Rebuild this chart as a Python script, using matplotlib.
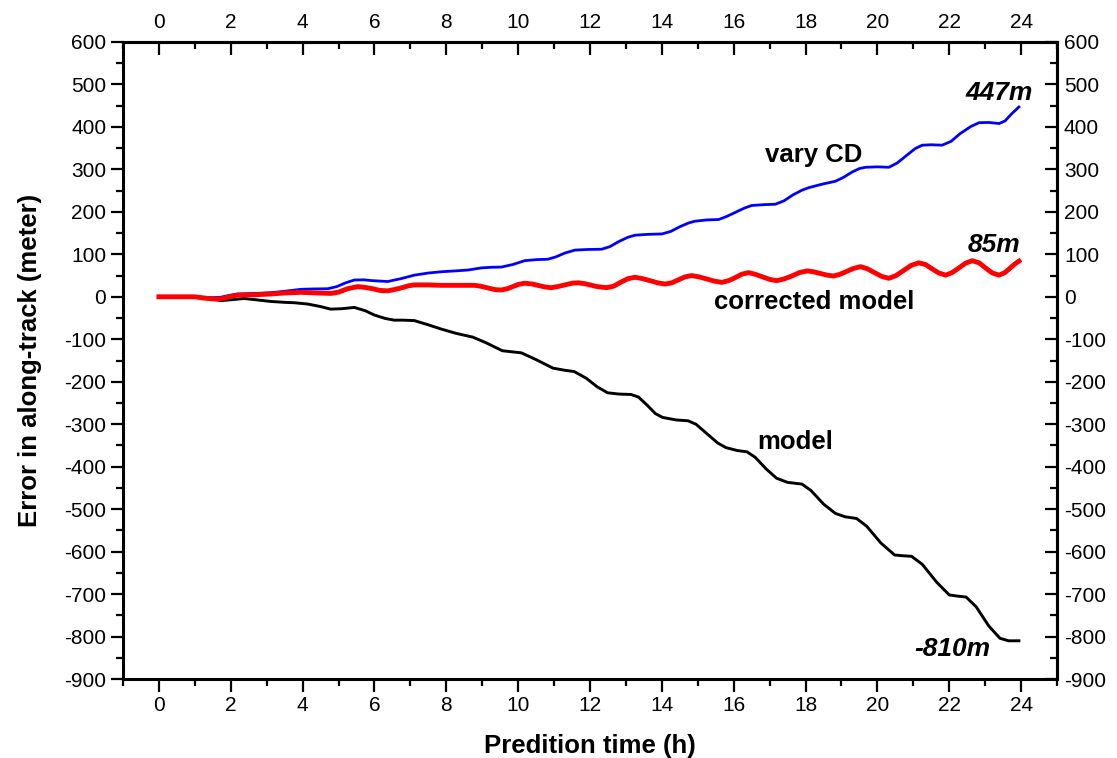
import matplotlib
matplotlib.use("Agg")
import matplotlib.pyplot as plt
from matplotlib.ticker import MultipleLocator

plt.rcParams['font.family'] = ['Liberation Sans', 'DejaVu Sans']
plt.rcParams['axes.unicode_minus'] = False

# --- data (hours, meters) ---
t_model = [0, 0.5, 1.0, 1.4, 1.72, 2.0, 2.37, 2.7, 3.12, 3.5, 3.77, 4.14, 4.5, 4.78, 5.1,
           5.44, 5.75, 6.0, 6.3, 6.55, 6.8, 7.11, 7.5, 7.86, 8.27, 8.74, 9.1, 9.56, 10.09,
           10.5, 10.97, 11.3, 11.56, 11.9, 12.2, 12.49, 12.8, 13.14, 13.35, 13.6, 13.82,
           14.02, 14.4, 14.73, 14.95, 15.25, 15.55, 15.78, 16.1, 16.37, 16.6, 16.9, 17.19,
           17.5, 17.9, 18.15, 18.5, 18.83, 19.1, 19.42, 19.7, 20.1, 20.48, 20.75, 20.95,
           21.25, 21.65, 22.0, 22.25, 22.47, 22.75, 23.1, 23.41, 23.65, 23.94]
err_model = [0, 0, -1, -4, -9, -7, -4, -7, -11, -13, -14, -17, -23, -29, -28,
             -25, -33, -43, -51, -55, -55, -56, -66, -76, -86, -95, -108, -127, -132,
             -148, -168, -173, -176, -192, -212, -226, -229, -230, -236, -256, -275,
             -284, -290, -292, -300, -322, -344, -355, -362, -365, -378, -405, -427,
             -437, -441, -456, -488, -510, -518, -522, -540, -580, -608, -610, -611,
             -630, -672, -702, -705, -707, -730, -775, -804, -810, -810]

t_vary = [0, 1.0, 1.5, 1.72, 2.0, 2.19, 2.7, 3.12, 3.5, 3.95, 4.3, 4.7, 4.95, 5.2, 5.44,
          5.7, 5.95, 6.37, 6.75, 7.11, 7.5, 7.86, 8.25, 8.6, 8.97, 9.25, 9.53, 9.85, 10.18,
          10.5, 10.83, 11.05, 11.3, 11.58, 11.95, 12.32, 12.55, 12.8, 13.05, 13.25, 13.6,
          14.0, 14.25, 14.5, 14.75, 14.92, 15.25, 15.58, 15.8, 16.05, 16.3, 16.5, 16.85,
          17.16, 17.4, 17.65, 17.9, 18.09, 18.45, 18.83, 19.05, 19.3, 19.5, 19.67, 20.0,
          20.32, 20.55, 20.8, 21.05, 21.25, 21.5, 21.8, 22.05, 22.3, 22.6, 22.83, 23.1,
          23.39, 23.55, 23.75, 23.94]
err_vary = [0, 0, -2, -1, 4, 6.6, 8, 9.7, 13, 17.6, 18.5, 19, 24, 33, 39.5,
            40, 38, 36, 43, 51, 56, 59, 61, 63, 68, 69.5, 70, 76, 85,
            87.5, 88.5, 94, 103, 110, 111.5, 112, 118, 130, 140, 145, 147,
            148, 154, 165, 174, 178, 181, 182, 189, 199, 209, 215, 217,
            218, 226, 240, 251, 257, 265, 272, 281, 294, 302, 305, 306,
            305, 315, 332, 349, 357, 358, 357, 366, 384, 401, 410, 410.5,
            408, 414, 432, 447]

t_corr = [0, 1.0, 1.25, 1.5, 1.72, 1.95, 2.19, 2.7, 3.12, 3.5, 3.95, 4.4, 4.79, 5.0, 5.25,
          5.53, 5.75, 5.95, 6.15, 6.37, 6.55, 6.75, 6.95, 7.11, 7.5, 7.86, 8.3, 8.79, 8.95,
          9.15, 9.35, 9.53, 9.7, 9.85, 10.0, 10.18, 10.4, 10.55, 10.75, 10.92, 11.1, 11.3,
          11.5, 11.67, 11.85, 12.0, 12.2, 12.46, 12.66, 12.85, 13.05, 13.25, 13.45, 13.67,
          13.88, 14.09, 14.28, 14.46, 14.65, 14.83, 15.03, 15.25, 15.46, 15.67, 15.86,
          16.04, 16.22, 16.41, 16.6, 16.8, 17.0, 17.2, 17.4, 17.62, 17.83, 18.04, 18.22,
          18.41, 18.6, 18.78, 18.96, 19.15, 19.34, 19.53, 19.72, 19.92, 20.12, 20.32,
          20.52, 20.73, 20.94, 21.15, 21.34, 21.52, 21.71, 21.9, 22.08, 22.27, 22.45,
          22.64, 22.83, 23.01, 23.2, 23.39, 23.55, 23.7, 23.82, 23.94]
err_corr = [0, 0, -3, -5, -5, 0, 4, 5, 6.6, 9, 10.5, 9, 8, 11, 19,
            24, 22, 19, 15, 14, 17, 21, 26, 28, 28, 27, 27, 27, 25,
            21, 17, 16, 19, 24, 29, 32, 30, 27, 23, 21.5, 24, 28,
            32, 33, 31, 28, 24, 21.5, 25, 34, 42.5, 46, 43, 38,
            33, 30, 33, 40, 47, 50, 47, 42, 37, 34, 38,
            45, 53, 57, 53, 47, 41, 38, 42, 49, 57, 61, 59,
            55, 51, 49, 53, 60, 67, 71, 66, 57, 48, 43.5,
            50, 62, 74, 80, 76, 66, 56, 51, 57, 68, 79,
            85, 80, 68, 56, 51, 57, 68, 77, 84]

xticks = list(range(0, 25, 2))
yticks = list(range(-900, 601, 100))

fig = plt.figure(figsize=(11.17, 7.58), dpi=100)
ax = fig.add_axes([0.1101, 0.1042, 0.8362, 0.8404])

ax.plot(t_model, err_model, color='black', lw=2.1, solid_joinstyle='round')
ax.plot(t_vary, err_vary, color='#0000ff', lw=2.0, solid_joinstyle='round')
ax.plot(t_corr, err_corr, color='#ff0000', lw=3.5, solid_joinstyle='round')

ax.set_xlim(-1, 25)
ax.set_ylim(-900, 600)
ax.set_xticks(xticks)
ax.set_yticks(yticks)
ax.xaxis.set_minor_locator(MultipleLocator(1))
ax.yaxis.set_minor_locator(MultipleLocator(50))

for s in ax.spines.values():
    s.set_linewidth(2.2)

ax.tick_params(axis='both', which='major', direction='out', length=9, width=1.6,
               labelsize=15, pad=3)
ax.tick_params(axis='both', which='minor', direction='out', length=5, width=1.6)

secx = ax.secondary_xaxis('top')
secx.set_xticks(xticks)
secx.xaxis.set_minor_locator(MultipleLocator(1))
secx.tick_params(which='major', direction='in', length=9, width=1.6, labelsize=15, pad=7)
secx.tick_params(which='minor', direction='in', length=5, width=1.6)
secx.spines['top'].set_linewidth(2.2)

secy = ax.secondary_yaxis('right')
secy.set_yticks(yticks)
secy.yaxis.set_minor_locator(MultipleLocator(50))
secy.tick_params(which='major', direction='in', length=9, width=1.6, labelsize=15, pad=5)
secy.tick_params(which='minor', direction='in', length=5, width=1.6)
secy.spines['right'].set_linewidth(2.2)

ax.set_xlabel('Predition time (h)', fontsize=18.5, fontweight='bold', labelpad=14)
ax.set_ylabel('Error in along-track (meter)', fontsize=18.5, fontweight='bold', labelpad=16)

ax.text(18.24, 334, 'vary CD', fontsize=18.5, fontweight='bold', ha='center', va='center')
ax.text(18.24, -11.5, 'corrected model', fontsize=18.5, fontweight='bold', ha='center', va='center')
ax.text(17.72, -341, 'model', fontsize=18.5, fontweight='bold', ha='center', va='center')
ax.text(23.39, 480, '447m', fontsize=19, fontweight='bold', style='italic', ha='center', va='center')
ax.text(23.25, 122, '85m', fontsize=19, fontweight='bold', style='italic', ha='center', va='center')
ax.text(22.08, -830, '-810m', fontsize=19, fontweight='bold', style='italic', ha='center', va='center')

fig.savefig('out.png', dpi=100)
